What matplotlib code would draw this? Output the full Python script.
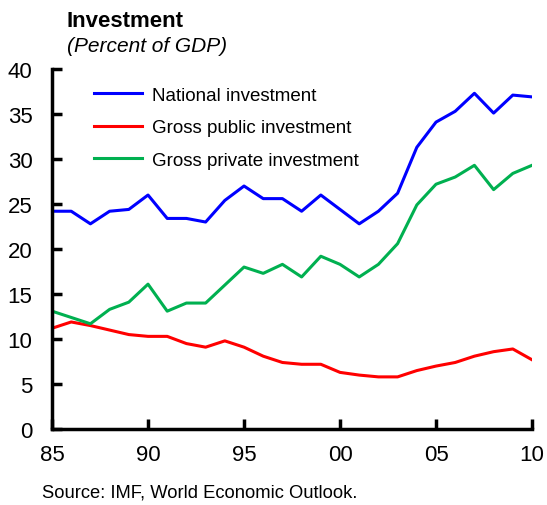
import numpy as np
import matplotlib.pyplot as plt

plt.rcParams['font.family'] = ['Liberation Sans', 'DejaVu Sans']

years = np.arange(1985, 2011)
national = [24.2, 24.2, 22.8, 24.2, 24.4, 26.0, 23.4, 23.4, 23.0, 25.4,
            27.0, 25.6, 25.6, 24.2, 26.0, 24.4, 22.8, 24.2, 26.2, 31.3,
            34.1, 35.3, 37.3, 35.1, 37.1, 36.9]
public = [11.2, 11.9, 11.5, 11.0, 10.5, 10.3, 10.3, 9.5, 9.1, 9.8,
          9.1, 8.1, 7.4, 7.2, 7.2, 6.3, 6.0, 5.8, 5.8, 6.5,
          7.0, 7.4, 8.1, 8.6, 8.9, 7.7]
private = [13.1, 12.4, 11.7, 13.3, 14.1, 16.1, 13.1, 14.0, 14.0, 16.0,
           18.0, 17.3, 18.3, 16.9, 19.2, 18.3, 16.9, 18.3, 20.6, 24.9,
           27.2, 28.0, 29.3, 26.6, 28.4, 29.3]
xticks = [1985, 1990, 1995, 2000, 2005, 2010]
xticklabels = ["85", "90", "95", "00", "05", "10"]
yticks = [0, 5, 10, 15, 20, 25, 30, 35, 40]

fig = plt.figure(figsize=(5.47, 5.06), dpi=100)
ax = fig.add_axes([0.0951, 0.150, 0.8775, 0.7117])

ax.plot(years, national, color='#0000ff', lw=2.2, label="National investment")
ax.plot(years, public, color='#ff0000', lw=2.2, label="Gross public investment")
ax.plot(years, private, color='#00b050', lw=2.2, label="Gross private investment")

ax.set_xlim(1985, 2010)
ax.set_ylim(0, 40)
ax.set_xticks(xticks)
ax.set_xticklabels(xticklabels)
ax.set_yticks(yticks)
for side in ['top', 'right']:
    ax.spines[side].set_visible(False)
for side in ['left', 'bottom']:
    ax.spines[side].set_linewidth(2.5)
ax.tick_params(direction='in', length=7, width=2.5, labelsize=16)
ax.tick_params(axis='x', pad=11)
ax.tick_params(axis='y', pad=14)

# legend sits inside the axes, no frame
leg = ax.legend(loc='upper left', bbox_to_anchor=(0.052, 0.998), frameon=False,
                fontsize=13.5, handlelength=2.55, handletextpad=0.55,
                labelspacing=0.82)

fig.text(0.122, 0.958, "Investment", fontsize=16, fontweight='bold',
         va='center')
fig.text(0.122, 0.908, "(Percent of GDP)", fontsize=15, fontstyle='italic',
         va='center')
fig.text(0.077, 0.025, "Source: IMF, World Economic Outlook.", fontsize=13.2,
         va='center')

fig.savefig("out.png", dpi=100)
